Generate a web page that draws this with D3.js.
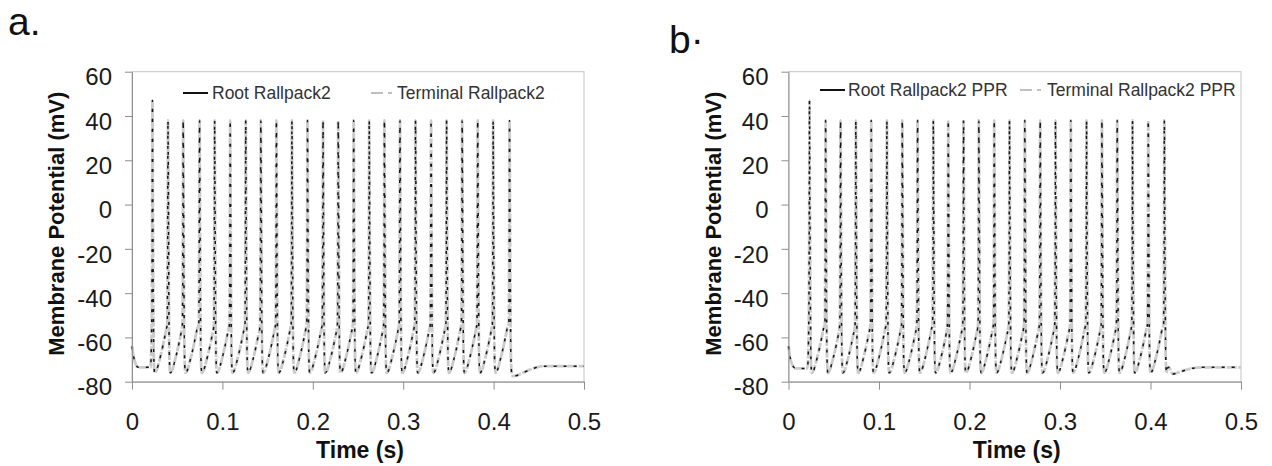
<!DOCTYPE html>
<html>
<head>
<meta charset="utf-8">
<script src="https://cdn.jsdelivr.net/npm/d3@7"></script>
<style>
  html, body { margin: 0; padding: 0; background: #fff; }
  svg { display: block; font-family: "Liberation Sans", Arial, sans-serif; }
</style>
</head>
<body>
<div id="chart-area"></div>
<script>
// ---- data ----
const xTicks = [0, 0.1, 0.2, 0.3, 0.4, 0.5];
const yTicks = [-80, -60, -40, -20, 0, 20, 40, 60];

const seriesA = ['Root Rallpack2', 'Terminal Rallpack2'];
const seriesB = ['Root Rallpack2 PPR', 'Terminal Rallpack2 PPR'];

// spike peak times (s) and peak voltages (mV)
const spikeTimesA = [0.0226, 0.0398, 0.0566, 0.0747, 0.0914, 0.1086, 0.1258, 0.1425,
    0.1597, 0.1769, 0.1941, 0.2113, 0.2281, 0.2452, 0.2624, 0.2792,
    0.2964, 0.3136, 0.3308, 0.3480, 0.3652, 0.3824, 0.3995, 0.4176];
const spikePeaksA = [47, 38, 38, 38, 38, 38, 38, 38, 38, 38, 38, 38,
    38, 38, 38, 38, 38, 38, 38, 38, 38, 38, 38, 38];

const spikeTimesB = [0.0232, 0.0410, 0.0575, 0.0744, 0.0914, 0.1087, 0.1257, 0.1426,
    0.1600, 0.1765, 0.1934, 0.2103, 0.2273, 0.2442, 0.2611, 0.2781,
    0.2950, 0.3119, 0.3293, 0.3463, 0.3632, 0.3801, 0.3975, 0.4153];
const spikePeaksB = [47, 38, 38, 38, 38, 38, 38, 38, 38, 38, 38, 38,
    38, 38, 38, 38, 38, 38, 38, 38, 38, 38, 38, 38];

// one spike as seen in the picture: [ms from peak, mV]
const spikeRise = [[-0.8, -54], [-0.4, -25]];
const spikeFall = [[0.5, 0], [1.0, -45], [1.6, -70], [2.4, -76]];
const recovery = [[4.5, -75], [7, -71.5], [9.5, -67.5], [12, -63], [14, -59], [15.5, -56]];

// before the first spike and after the current stops: [s, mV]
const onsetA = [[0, -64], [0.002, -69], [0.004, -72], [0.007, -73.5], [0.0205, -73.5]];
const tailA = [[0.4215, -77.5], [0.427, -77], [0.435, -75.5], [0.444, -74], [0.454, -73], [0.5, -73]];
const onsetB = [[0, -64], [0.002, -69.5], [0.005, -73], [0.008, -74], [0.021, -74]];
const tailB = [[0.4185, -74], [0.4205, -73.5], [0.4245, -76.5], [0.433, -75.5], [0.445, -74], [0.46, -73.5], [0.5, -73.5]];

// ---- layout ----
const W = 1272, H = 466;
const panels = [
    { tag: 'a.', tagX: 8, tagY: 35, left: 132, top: 71.7, width: 452, height: 310,
      names: seriesA, times: spikeTimesA, peaks: spikePeaksA, onset: onsetA, tail: tailA,
      legend: [{ x0: 183, x1: 208, tx: 212 }, { x0: 371, x1: 395, tx: 397 }], legendY: 93 },
    { tag: 'b\u00b7', tagX: 669, tagY: 53, left: 788.5, top: 71.7, width: 452.5, height: 310,
      names: seriesB, times: spikeTimesB, peaks: spikePeaksB, onset: onsetB, tail: tailB,
      legend: [{ x0: 820, x1: 845, tx: 848 }, { x0: 1020, x1: 1044, tx: 1047 }], legendY: 90 }
];

function buildTrace(times, peaks, onset, tail) {
    const pts = onset.map(d => ({ t: d[0], v: d[1] }));
    times.forEach((t, i) => {
        spikeRise.forEach(d => pts.push({ t: t + d[0] / 1000, v: d[1] }));
        pts.push({ t: t, v: peaks[i] });
        spikeFall.forEach(d => pts.push({ t: t + d[0] / 1000, v: d[1] }));
        if (i < times.length - 1) {
            const next = times[i + 1] + spikeRise[0][0] / 1000;
            recovery.forEach(d => {
                const tt = t + d[0] / 1000;
                if (tt < next - 0.0002) pts.push({ t: tt, v: d[1] });
            });
        }
    });
    tail.forEach(d => pts.push({ t: d[0], v: d[1] }));
    return pts;
}

const svg = d3.select('#chart-area')
    .append('svg')
    .attr('width', W)
    .attr('height', H);

svg.append('rect').attr('width', W).attr('height', H).attr('fill', '#fff');

panels.forEach(p => {
    const g = svg.append('g').attr('transform', `translate(${p.left},${p.top})`);

    const x = d3.scaleLinear().domain([0, 0.5]).range([0, p.width]);
    const y = d3.scaleLinear().domain([-80, 60]).range([p.height, 0]);

    // plot area frame
    g.append('rect')
        .attr('width', p.width)
        .attr('height', p.height)
        .attr('fill', 'none')
        .attr('stroke', '#c4c4c4')
        .attr('stroke-width', 1);

    const trace = buildTrace(p.times, p.peaks, p.onset, p.tail);
    const line = d3.line()
        .x(d => x(d.t))
        .y(d => y(d.v))
        .curve(d3.curveMonotoneX);

    // terminal (grey, underneath)
    g.append('path')
        .datum(trace)
        .attr('fill', 'none')
        .attr('stroke', '#cbcbcb')
        .attr('stroke-width', 2.8)
        .attr('stroke-dasharray', '10,1.5')
        .attr('d', line);

    // root (black, on top, shows broken in the scan)
    g.append('path')
        .datum(trace)
        .attr('fill', 'none')
        .attr('stroke', '#151515')
        .attr('stroke-width', 1.5)
        .attr('stroke-dasharray', '3,7')
        .attr('d', line);

    // axes
    const yAxis = d3.axisLeft(y)
        .tickValues(yTicks)
        .tickFormat(d => String(d))
        .tickSize(7)
        .tickSizeOuter(0)
        .tickPadding(13);
    const ya = g.append('g').call(yAxis);

    const xAxis = d3.axisBottom(x)
        .tickValues(xTicks)
        .tickFormat(d => String(d))
        .tickSize(8)
        .tickSizeOuter(0)
        .tickPadding(23);
    const xa = g.append('g').attr('transform', `translate(0,${p.height})`).call(xAxis);

    [ya, xa].forEach(a => {
        a.select('.domain').attr('stroke', '#8f8f8f');
        a.selectAll('.tick line').attr('stroke', '#8f8f8f');
        a.selectAll('.tick text')
            .attr('fill', '#1a1a1a')
            .style('font-size', '24px')
            .style('font-family', '"Liberation Sans", Arial, sans-serif');
    });
    ya.selectAll('.tick text').attr('dy', '0.55em');

    // axis titles
    svg.append('text')
        .attr('transform', `translate(${p.left - 68},${p.top + p.height / 2 - 3}) rotate(-90)`)
        .attr('text-anchor', 'middle')
        .attr('fill', '#111')
        .style('font-size', '22px')
        .style('font-weight', 'bold')
        .text('Membrane Potential (mV)');

    svg.append('text')
        .attr('x', p.left + p.width / 2 + 2)
        .attr('y', 458)
        .attr('text-anchor', 'middle')
        .attr('fill', '#111')
        .style('font-size', '23px')
        .style('font-weight', 'bold')
        .text('Time (s)');

    // panel tag
    svg.append('text')
        .attr('x', p.tagX)
        .attr('y', p.tagY)
        .attr('fill', '#111')
        .style('font-size', '39px')
        .text(p.tag);

    // legend
    const L = p.legend;
    svg.append('line')
        .attr('x1', L[0].x0).attr('x2', L[0].x1)
        .attr('y1', p.legendY).attr('y2', p.legendY)
        .attr('stroke', '#111').attr('stroke-width', 2);
    svg.append('line')
        .attr('x1', L[1].x0).attr('x2', L[1].x1)
        .attr('y1', p.legendY).attr('y2', p.legendY)
        .attr('stroke', '#c0c0c0').attr('stroke-width', 2)
        .attr('stroke-dasharray', '12,5,4');
    p.names.forEach((name, i) => {
        svg.append('text')
            .attr('x', L[i].tx)
            .attr('y', p.legendY + 6)
            .attr('fill', '#333')
            .style('font-size', '17.5px')
            .text(name);
    });
});
</script>
</body>
</html>
